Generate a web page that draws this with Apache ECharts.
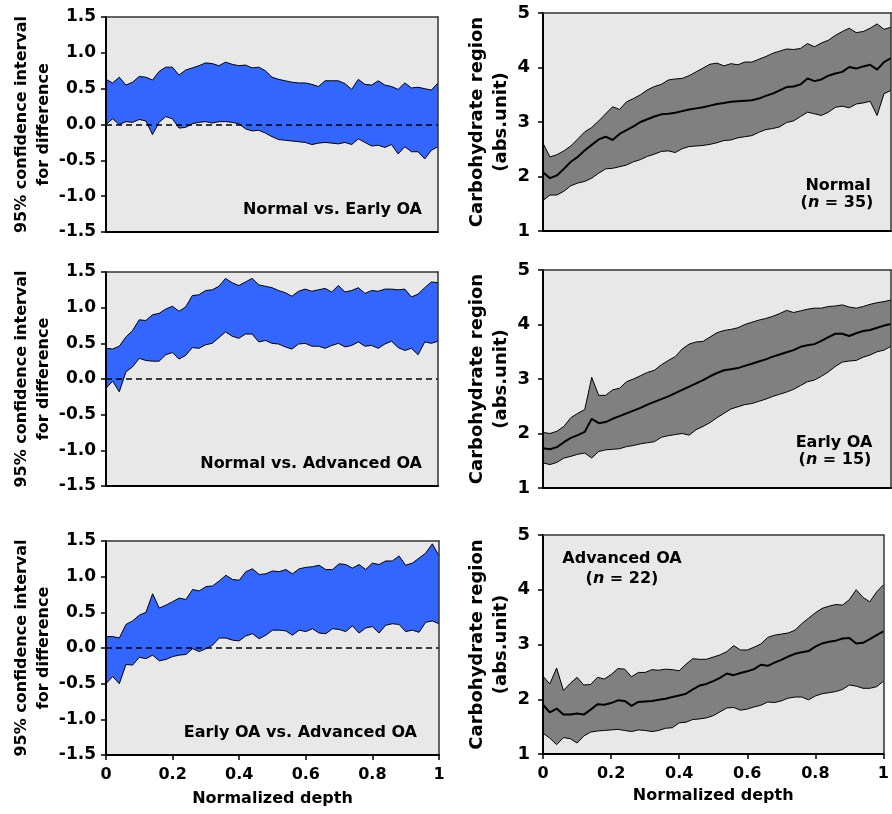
<!DOCTYPE html>
<html><head><meta charset="utf-8">
<script src="https://cdn.jsdelivr.net/npm/echarts@6/dist/echarts.min.js"></script>
<style>html,body{margin:0;padding:0;background:#fff}#c{width:892px;height:814px}</style>
</head><body><div id="c"></div>
<script>
// ---------- data ----------
const depth = [0,0.02,0.04,0.06,0.08,0.1,0.12,0.14,0.16,0.18,0.2,0.22,0.24,0.26,0.28,0.3,0.32,0.34,0.36,0.38,0.4,0.42,0.44,0.46,0.48,0.5,0.52,0.54,0.56,0.58,0.6,0.62,0.64,0.66,0.68,0.7,0.72,0.74,0.76,0.78,0.8,0.82,0.84,0.86,0.88,0.9,0.92,0.94,0.96,0.98,1];

const ciNormalEarlyUpper = [0.63,0.58,0.66,0.55,0.59,0.67,0.66,0.62,0.74,0.80,0.80,0.69,0.76,0.79,0.82,0.86,0.85,0.82,0.87,0.84,0.82,0.83,0.79,0.80,0.75,0.66,0.63,0.61,0.59,0.58,0.58,0.56,0.53,0.61,0.61,0.61,0.57,0.49,0.63,0.56,0.55,0.61,0.55,0.53,0.49,0.58,0.51,0.52,0.50,0.48,0.58];
const ciNormalEarlyLower = [0.00,0.08,0.00,0.04,0.03,0.07,0.05,-0.14,0.03,0.11,0.08,-0.05,-0.04,0.01,0.03,0.04,0.02,0.04,0.04,0.03,0.01,-0.06,-0.09,-0.08,-0.12,-0.17,-0.21,-0.22,-0.23,-0.24,-0.25,-0.28,-0.26,-0.25,-0.26,-0.27,-0.25,-0.28,-0.20,-0.25,-0.30,-0.29,-0.32,-0.28,-0.41,-0.31,-0.38,-0.38,-0.48,-0.36,-0.31];

const ciNormalAdvUpper = [0.43,0.42,0.46,0.59,0.68,0.83,0.82,0.90,0.92,0.98,1.02,0.95,1.01,1.17,1.18,1.24,1.25,1.30,1.41,1.35,1.31,1.36,1.41,1.32,1.30,1.28,1.24,1.21,1.16,1.23,1.26,1.23,1.25,1.27,1.22,1.31,1.22,1.24,1.28,1.20,1.24,1.23,1.26,1.26,1.25,1.26,1.15,1.19,1.28,1.36,1.35];
const ciNormalAdvLower = [-0.13,-0.03,-0.18,0.10,0.17,0.29,0.26,0.25,0.25,0.34,0.37,0.28,0.33,0.44,0.43,0.48,0.50,0.58,0.66,0.60,0.57,0.63,0.63,0.52,0.54,0.50,0.49,0.45,0.42,0.49,0.50,0.46,0.46,0.43,0.47,0.50,0.45,0.47,0.52,0.46,0.47,0.43,0.49,0.53,0.44,0.40,0.43,0.34,0.52,0.50,0.53];

const ciEarlyAdvUpper = [0.16,0.16,0.14,0.33,0.38,0.46,0.50,0.76,0.56,0.60,0.65,0.70,0.68,0.82,0.80,0.86,0.87,0.94,1.02,0.96,0.95,1.07,1.11,1.03,1.04,1.08,1.07,1.10,1.04,1.11,1.13,1.14,1.16,1.10,1.10,1.18,1.17,1.12,1.17,1.10,1.19,1.17,1.22,1.22,1.29,1.16,1.19,1.26,1.33,1.46,1.29];
const ciEarlyAdvLower = [-0.50,-0.40,-0.50,-0.23,-0.24,-0.13,-0.15,-0.10,-0.18,-0.16,-0.12,-0.10,-0.09,-0.01,-0.05,-0.01,0.04,0.14,0.14,0.11,0.10,0.17,0.20,0.13,0.18,0.25,0.25,0.24,0.18,0.25,0.23,0.27,0.21,0.20,0.27,0.26,0.23,0.31,0.21,0.28,0.30,0.21,0.32,0.34,0.33,0.23,0.25,0.22,0.36,0.38,0.34];

const carbNormalUpper = [2.61,2.36,2.40,2.47,2.56,2.69,2.82,2.90,3.02,3.15,3.28,3.23,3.37,3.43,3.50,3.59,3.65,3.69,3.77,3.79,3.80,3.85,3.92,3.99,4.06,4.08,4.03,4.07,4.05,4.10,4.10,4.15,4.20,4.26,4.30,4.34,4.33,4.35,4.44,4.38,4.45,4.50,4.59,4.66,4.72,4.64,4.66,4.72,4.80,4.70,4.74];
const carbNormalMean  = [2.08,1.97,2.02,2.14,2.27,2.36,2.48,2.58,2.68,2.73,2.67,2.78,2.85,2.92,3.00,3.05,3.10,3.14,3.15,3.17,3.20,3.23,3.25,3.27,3.30,3.33,3.35,3.37,3.38,3.39,3.40,3.43,3.48,3.52,3.58,3.64,3.65,3.69,3.80,3.75,3.78,3.85,3.89,3.92,4.01,3.98,4.02,4.05,3.96,4.10,4.17];
const carbNormalLower = [1.56,1.66,1.66,1.73,1.83,1.88,1.91,1.97,2.06,2.14,2.15,2.18,2.21,2.27,2.31,2.37,2.41,2.46,2.47,2.44,2.51,2.55,2.56,2.57,2.59,2.62,2.66,2.67,2.71,2.73,2.75,2.81,2.86,2.88,2.91,2.99,3.02,3.10,3.18,3.15,3.12,3.18,3.27,3.29,3.26,3.33,3.35,3.38,3.12,3.52,3.58];

const carbEarlyUpper = [2.02,2.00,2.04,2.13,2.29,2.37,2.44,3.03,2.70,2.70,2.80,2.83,2.95,3.00,3.06,3.12,3.16,3.26,3.34,3.41,3.55,3.64,3.68,3.69,3.77,3.85,3.89,3.91,3.94,4.00,4.04,4.08,4.11,4.15,4.20,4.26,4.22,4.25,4.28,4.30,4.30,4.33,4.34,4.36,4.32,4.30,4.33,4.37,4.40,4.42,4.45];
const carbEarlyMean  = [1.73,1.71,1.75,1.84,1.92,1.97,2.03,2.27,2.19,2.21,2.27,2.32,2.37,2.42,2.47,2.53,2.58,2.63,2.68,2.74,2.80,2.86,2.92,2.98,3.05,3.11,3.16,3.18,3.20,3.24,3.28,3.32,3.36,3.41,3.45,3.49,3.53,3.59,3.62,3.64,3.70,3.77,3.83,3.83,3.79,3.84,3.88,3.90,3.94,3.98,4.01];
const carbEarlyLower = [1.46,1.43,1.47,1.55,1.58,1.62,1.64,1.55,1.67,1.70,1.71,1.72,1.76,1.78,1.81,1.83,1.85,1.93,1.96,1.98,2.00,1.97,2.07,2.13,2.20,2.29,2.37,2.45,2.49,2.53,2.55,2.59,2.63,2.68,2.72,2.76,2.81,2.88,2.95,2.98,3.05,3.13,3.23,3.31,3.33,3.34,3.40,3.44,3.50,3.53,3.60];

const carbAdvUpper = [2.42,2.28,2.57,2.16,2.29,2.40,2.26,2.27,2.40,2.37,2.45,2.56,2.55,2.41,2.49,2.49,2.54,2.53,2.55,2.54,2.52,2.64,2.74,2.73,2.73,2.77,2.81,2.87,2.98,2.90,2.90,2.95,3.01,3.13,3.17,3.19,3.21,3.26,3.38,3.48,3.58,3.66,3.70,3.73,3.72,3.82,4.00,3.86,3.78,3.96,4.09];
const carbAdvMean  = [1.90,1.76,1.83,1.72,1.72,1.74,1.72,1.81,1.91,1.90,1.93,1.98,1.97,1.88,1.95,1.96,1.97,1.99,2.01,2.04,2.07,2.10,2.18,2.25,2.28,2.33,2.39,2.47,2.44,2.48,2.51,2.55,2.63,2.61,2.67,2.72,2.78,2.83,2.86,2.88,2.96,3.02,3.05,3.07,3.11,3.12,3.02,3.03,3.10,3.17,3.24];
const carbAdvLower = [1.38,1.29,1.17,1.30,1.28,1.20,1.33,1.40,1.42,1.43,1.44,1.45,1.43,1.41,1.44,1.43,1.41,1.43,1.47,1.48,1.57,1.58,1.63,1.64,1.66,1.70,1.77,1.84,1.85,1.80,1.82,1.86,1.89,1.95,1.94,1.97,2.02,2.04,2.04,1.99,2.06,2.10,2.12,2.14,2.18,2.26,2.24,2.20,2.20,2.23,2.33];

const ciTickLabels = ['-1.5','-1.0','-0.5','0.0','0.5','1.0','1.5'];
const depthTickLabels = ['0','0.2','0.4','0.6','0.8','1'];
const carbTickLabels = ['1','2','3','4','5'];

// ---------- styling / layout ----------
const FONT = 'DejaVu Sans';
const PLOT_BG = '#e8e8e8';
const BLUE = '#3366ff';
const GRAY = '#808080';

const panels = [
  {kind:'ci', grid:{left:106, top:17, width:332, height:215}, upper:ciNormalEarlyUpper, lower:ciNormalEarlyLower, bottom:false},
  {kind:'ci', grid:{left:106, top:272, width:332, height:214}, upper:ciNormalAdvUpper, lower:ciNormalAdvLower, bottom:false},
  {kind:'ci', grid:{left:106, top:541, width:333, height:214}, upper:ciEarlyAdvUpper, lower:ciEarlyAdvLower, bottom:true},
  {kind:'carb', grid:{left:543, top:13, width:348, height:218}, upper:carbNormalUpper, mean:carbNormalMean, lower:carbNormalLower, bottom:false},
  {kind:'carb', grid:{left:543, top:270, width:348, height:218}, upper:carbEarlyUpper, mean:carbEarlyMean, lower:carbEarlyLower, bottom:false},
  {kind:'carb', grid:{left:543, top:535, width:348, height:219}, upper:carbAdvUpper, mean:carbAdvMean, lower:carbAdvLower, bottom:true}
];

const annotations = [
  {text:'Normal vs. Early OA', x:422, y:210, align:'right'},
  {text:'Normal vs. Advanced OA', x:422, y:464, align:'right'},
  {text:'Early OA vs. Advanced OA', x:417, y:733, align:'right'},
  {text:'Normal', x:838, y:186, align:'center'},
  {text:'({n|n} = 35)', x:837, y:203, align:'center'},
  {text:'Early OA', x:834, y:443, align:'center'},
  {text:'({n|n} = 15)', x:835, y:460, align:'center'},
  {text:'Advanced OA', x:622, y:559, align:'center'},
  {text:'({n|n} = 22)', x:622, y:579, align:'center'}
];

const zip = (ys) => depth.map((d, i) => [d, ys[i]]);
const boldText = (size) => ({fontFamily:FONT, fontWeight:'bold', fontSize:size, color:'#000'});

const grids = [], xAxes = [], yAxes = [], series = [];
panels.forEach((p, g) => {
  grids.push(Object.assign({show:true, backgroundColor:PLOT_BG, borderWidth:0}, p.grid));
  const isCi = p.kind === 'ci';
  xAxes.push({
    type:'value', gridIndex:g, min:0, max:1, interval:0.2, position:'bottom', z:10,
    axisLine:{show:true, onZero:false, lineStyle:{color:'#000', width:2}},
    axisTick:{show:p.bottom, length:5, lineStyle:{color:'#000', width:1.5}},
    axisLabel:Object.assign({show:p.bottom, margin:12, alignMinLabel:'center', alignMaxLabel:'center',
      formatter:(v) => depthTickLabels[Math.round(v / 0.2)]}, boldText(16)),
    splitLine:{show:false},
    name:p.bottom ? 'Normalized depth' : '', nameLocation:'middle', nameGap:isCi ? 36 : 34,
    nameTextStyle:boldText(16)
  });
  xAxes.push({
    type:'value', gridIndex:g, min:0, max:1, position:'top', z:10,
    axisLine:{show:true, onZero:false, lineStyle:{color:'#333', width:1.5}},
    axisTick:{show:false}, axisLabel:{show:false}, splitLine:{show:false}
  });
  yAxes.push({
    type:'value', gridIndex:g, position:'left', z:10,
    min:isCi ? -1.5 : 1, max:isCi ? 1.5 : 5, interval:isCi ? 0.5 : 1,
    axisLine:{show:true, onZero:false, lineStyle:{color:'#000', width:2}},
    axisTick:{show:true, length:5, lineStyle:{color:'#000', width:1.5}},
    axisLabel:Object.assign({margin:isCi ? 10 : 13,
      formatter:(v) => isCi ? ciTickLabels[Math.round((v + 1.5) / 0.5)] : carbTickLabels[Math.round(v - 1)]},
      boldText(isCi ? 17 : 18)),
    splitLine:{show:false},
    name:isCi ? '95% confidence interval\nfor difference' : 'Carbohydrate region\n(abs.unit)',
    nameLocation:'middle', nameRotate:90, nameGap:isCi ? 50 : 29,
    nameTextStyle:Object.assign({lineHeight:isCi ? 22 : 24}, boldText(isCi ? 16 : 18))
  });
  yAxes.push({
    type:'value', gridIndex:g, position:'right', z:10,
    min:isCi ? -1.5 : 1, max:isCi ? 1.5 : 5,
    axisLine:{show:true, onZero:false, lineStyle:{color:'#333', width:1.5}},
    axisTick:{show:false}, axisLabel:{show:false}, splitLine:{show:false}
  });
  const xi = 2 * g, yi = 2 * g;
  series.push({
    type:'line', xAxisIndex:xi, yAxisIndex:yi, data:zip(p.upper), showSymbol:false, symbol:'none',
    lineStyle:{color:'#000', width:1}, areaStyle:{color:isCi ? BLUE : GRAY, opacity:1, origin:'start'},
    z:2, silent:true, animation:false
  });
  const lowerSeries = {
    type:'line', xAxisIndex:xi, yAxisIndex:yi, data:zip(p.lower), showSymbol:false, symbol:'none',
    lineStyle:{color:'#000', width:1}, areaStyle:{color:PLOT_BG, opacity:1, origin:'start'},
    z:3, silent:true, animation:false
  };
  if (isCi) {
    lowerSeries.markLine = {
      silent:true, symbol:'none', label:{show:false}, z:5,
      lineStyle:{color:'#000', width:1.5, type:[6,4]},
      data:[{yAxis:0}], animation:false
    };
  }
  series.push(lowerSeries);
  if (!isCi) {
    series.push({
      type:'line', xAxisIndex:xi, yAxisIndex:yi, data:zip(p.mean), showSymbol:false, symbol:'none',
      lineStyle:{color:'#000', width:2}, z:4, silent:true, animation:false
    });
  }
});

const graphic = annotations.map(a => ({
  type:'text', x:a.x, y:a.y, z:100, silent:true,
  style:{
    text:a.text, align:a.align, verticalAlign:'middle',
    fontFamily:FONT, fontWeight:'bold', fontSize:16, fill:'#000',
    rich:{n:{fontFamily:FONT, fontWeight:'bold', fontStyle:'italic', fontSize:16, fill:'#000'}}
  }
}));

const chart = echarts.init(document.getElementById('c'), null, {renderer:'canvas'});
chart.setOption({
  animation:false,
  backgroundColor:'#fff',
  grid:grids, xAxis:xAxes, yAxis:yAxes, series:series, graphic:graphic
});
</script>
</body></html>
